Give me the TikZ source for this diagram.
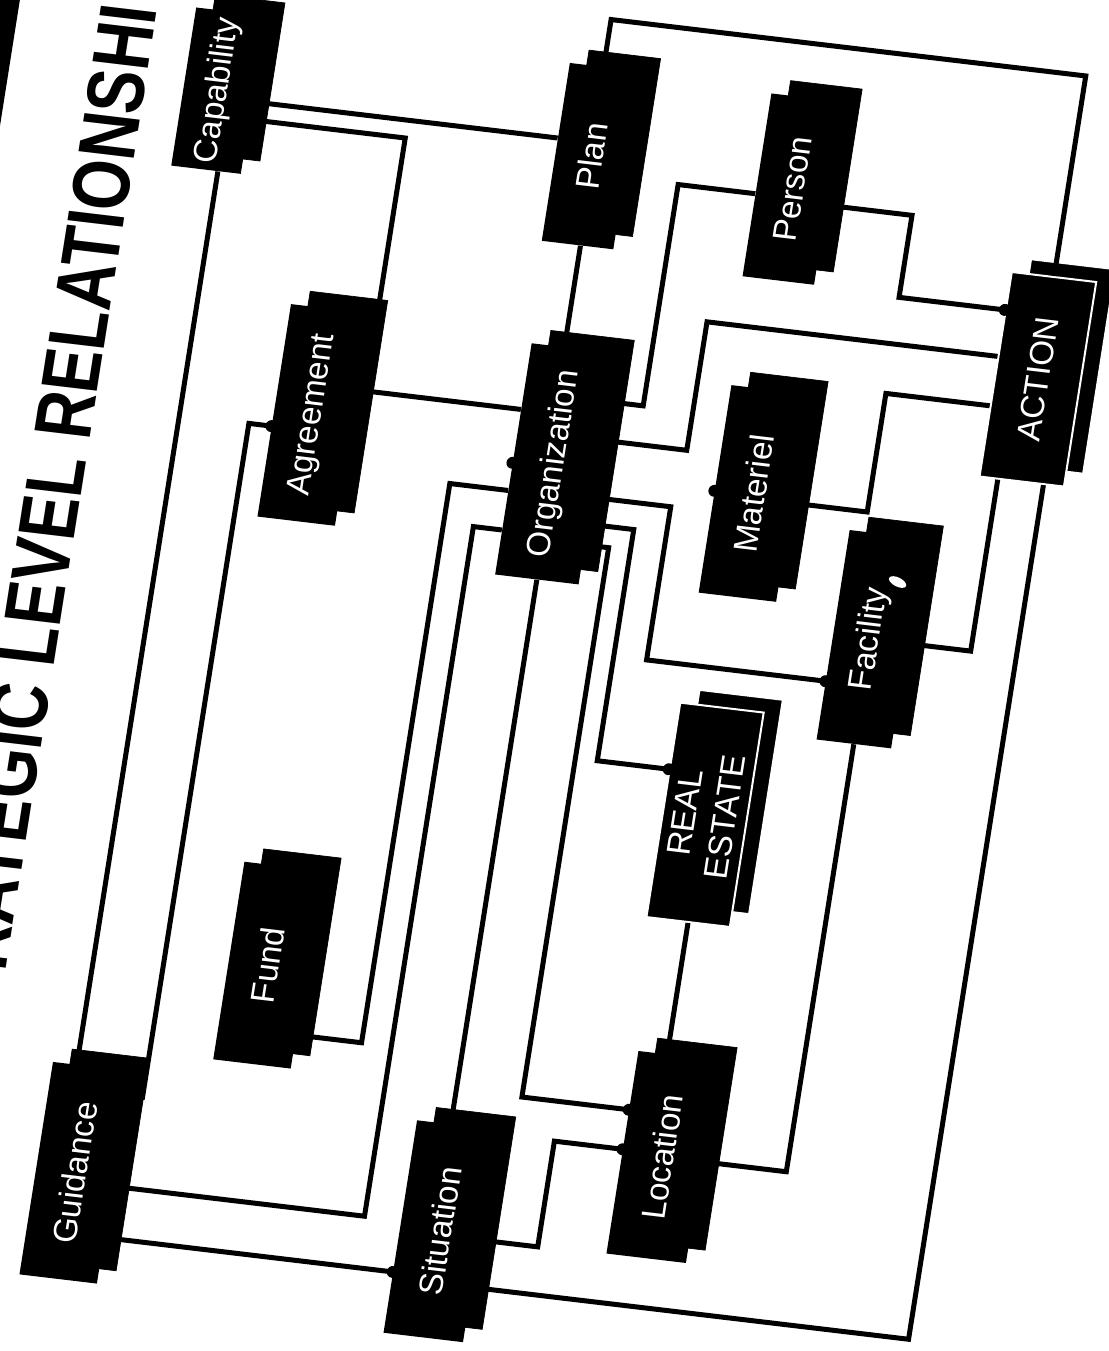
\documentclass[tikz,border=0pt]{standalone}
\usepackage{fontspec}
\usepackage{graphicx}
\setmainfont{Liberation Sans}
\usetikzlibrary{shadows}

\begin{document}
\begin{tikzpicture}[x=0.2mm, y=0.2mm,
  ent/.style={fill=black, text=white, inner sep=0pt, align=center,
              minimum width=42mm, minimum height=15.6mm,
              font=\fontsize{19}{23}\selectfont,
              copy shadow={shadow xshift=3mm, shadow yshift=-3.4mm}},
  entw/.style={ent, draw=white, line width=0.4mm},
  link/.style={draw=black, line width=1mm},
  ttl/.style={font=\fontsize{46}{52}\selectfont\bfseries, inner sep=0pt}
]
\fill[white] (0,0) rectangle (1109,1351);
\useasboundingbox (0,0) rectangle (1109,1351);
\clip (0,0) rectangle (1109,1351);
% page is scanned turned on its side and a little skewed
\begin{scope}[transform canvas={cm={0.156,0.988,-0.993,0.118,(221.8mm,0mm)}}]
\draw[line width=5mm] (900,1300) -- (1500,1300);
\node[ttl, anchor=base east] (ttl) at (1222,1150) {\scalebox{0.81}[1]{RATEGIC LEVEL RELATIONSHI}};

% entities
\node[ent, minimum width=32mm, minimum height=14mm] (cap) at (1147,1077) {Capability};
\node[ent, minimum width=43mm] (guid) at (55,1050) {Guidance};
\node[ent, minimum width=43mm] (agr) at (836,933) {Agreement};
\node[ent, minimum width=40mm] (fund) at (284,892) {Fund};
\node[ent, minimum width=36mm, minimum height=14.4mm] (plan) at (1126,698) {Plan};
\node[ent, minimum width=46.8mm, minimum height=16.8mm] (org) at (816,686) {Organization};
\node[ent, minimum width=43mm, minimum height=16mm] (sit) at (40,680) {Situation};
\node[ent, minimum width=37mm, minimum height=14.4mm] (pers) at (1117,494) {Person};
\node[ent] (mat) at (810,485) {Materiel};
\node[entw, minimum width=43.4mm, minimum height=16.8mm] (real) at (485,483) {REAL\\ESTATE};
\node[ent, minimum width=41mm, minimum height=16mm] (loc) at (140,472) {Location};
\node[ent, minimum width=42.4mm, minimum height=15mm] (fac) at (679,347) {Facility};
\node[entw, minimum width=41.4mm, minimum height=17mm] (act) at (957,222) {ACTION};
\fill[white, rotate around={-20:(739,329)}] (739,329) ellipse [x radius=0.9mm, y radius=1.9mm];

% relationships
\draw[link] (cap.south -| 1140,0) -- (plan.north -| 1140,0);
\draw[link] (cap.south -| 1122,0) |- (agr.east |- 0,885);
\draw[link] (cap.west |- 0,1065) -- (guid.east |- 0,1065);
\draw[link] (agr.north -| 820,0) |- (138,995) -- (guid.south -| 138,0);
\draw[link] (agr.south -| 866,0) -- (org.north -| 866,0);
\draw[link] (org.north -| 784,0) |- (218,787) -- (fund.south -| 218,0);
\draw[link] (org.north -| 744,0) |- (46,757) -- (guid.south -| 46,0);
\draw[link] (org.west) -- (sit.east |- org.west);
\draw[link] (plan.west |- 0,695) -- (org.east |- 0,695);
\draw[link] (plan.east |- 0,700) -| (1264,222) -- (act.east);
\draw[link] (pers.north -| 1108,0) |- (884,608) -- (org.south -| 884,0);
\draw[link] (pers.south -| 1105,0) |- (1022,372) -- (act.north -| 1022,0);
\draw[link] (org.south -| 845,0) |- (975,558) -- (act.north -| 975,0);
\draw[link] (mat.south -| 805,0) |- (925,370) -- (act.north -| 925,0);
\draw[link] (act.west |- 0,246) -| (fac.south);
\draw[link] (act.west |- 0,200) -| (sit.south -| -12,0);
\draw[link] (fac.west) -| (loc.south);
\draw[link] (fac.north -| 632,0) |- (787,565) -- (org.south -| 787,0);
\draw[link] (org.south -| 760,0) |- (526,598) -- (real.north -| 526,0);
\draw[link] (org.south -| 739,0) |- (183,620) -- (loc.north -| 183,0);
\draw[link] (sit.south -| 36,0) |- (143,581) -- (loc.north -| 143,0);
\draw[link] (guid.south -| -6,0) -- (sit.north -| -6,0);
\draw[link] (real.west) -- (loc.east |- real.west);

% end dots
\foreach \p in {(org.east |- 0,690), (org.north -| 812,0), (agr.north -| 820,0),
                (real.north -| 526,0), (mat.north -| 808,0), (act.north -| 1022,0),
                (sit.north -| -6,0), (loc.north -| 183,0), (loc.north -| 143,0),
                (fac.north -| 632,0)}
  \fill \p circle [radius=1.2mm];
\end{scope}
\end{tikzpicture}
\end{document}
